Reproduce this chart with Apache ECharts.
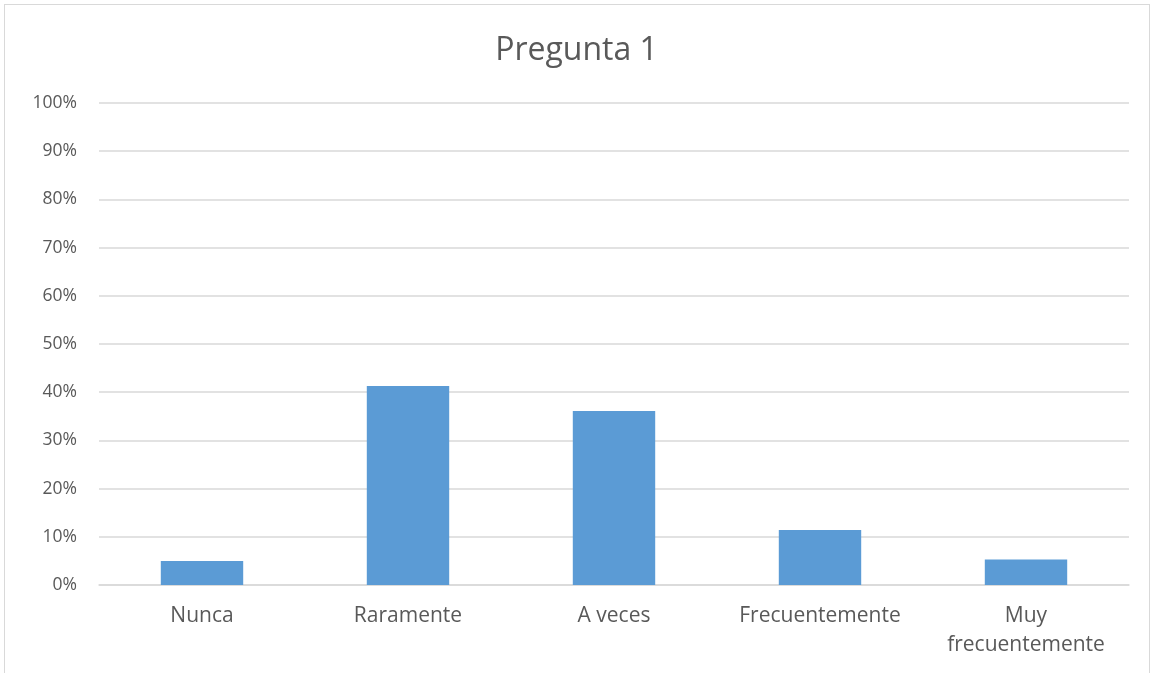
<!DOCTYPE html>
<html>
<head>
<meta charset="utf-8">
<script src="https://cdn.jsdelivr.net/npm/echarts@6/dist/echarts.min.js"></script>
<style>
  html, body { margin: 0; padding: 0; background: #fff; }
  #frame { position: absolute; left: 4px; top: 4px; width: 1146px; height: 700px; border: 1px solid #d9d9d9; box-sizing: border-box; }
  #chart { position: absolute; left: 0; top: 0; width: 1153px; height: 673px; }
</style>
</head>
<body>
<div id="frame"></div>
<div id="chart"></div>
<script>
const categories = ["Nunca", "Raramente", "A veces", "Frecuentemente", "Muy\nfrecuentemente"];
const values = [0.05, 0.413, 0.361, 0.114, 0.053];
const chartTitle = "Pregunta 1";

const chart = echarts.init(document.getElementById("chart"));
chart.setOption({
  title: {
    text: chartTitle,
    left: "center",
    top: 30,
    textStyle: { fontFamily: "Open Sans", fontSize: 32, fontWeight: "normal", color: "#595959" }
  },
  grid: { left: 99, right: 24, top: 103, bottom: 88, containLabel: false },
  xAxis: {
    type: "category",
    data: categories,
    axisLine: { lineStyle: { color: "#d9d9d9", width: 1.5 } },
    axisTick: { show: false },
    axisLabel: {
      fontFamily: "Open Sans", fontSize: 21, color: "#595959",
      margin: 17, lineHeight: 29, interval: 0
    }
  },
  yAxis: {
    type: "value",
    min: 0,
    max: 1,
    interval: 0.1,
    axisLine: { show: false },
    axisTick: { show: false },
    splitLine: { lineStyle: { color: "#d9d9d9", width: 1.5 } },
    axisLabel: {
      fontFamily: "Open Sans", fontSize: 17.5, color: "#595959", margin: 22,
      formatter: v => Math.round(v * 100) + "%"
    }
  },
  series: [{
    type: "bar",
    data: values,
    barCategoryGap: "60%",
    itemStyle: { color: "#5b9bd5" }
  }]
});
</script>
</body>
</html>
